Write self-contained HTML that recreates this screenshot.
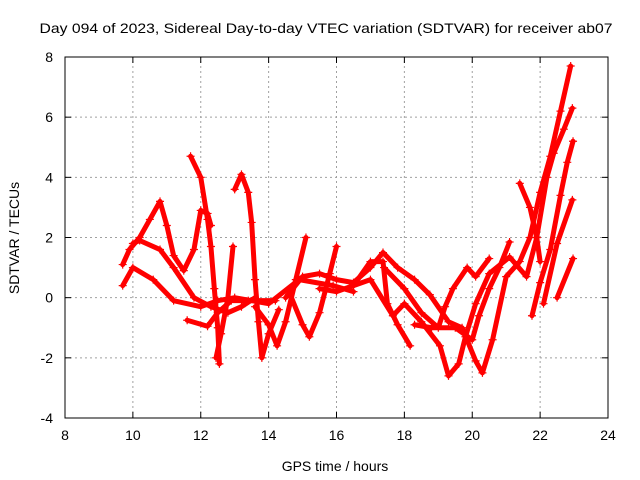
<!DOCTYPE html>
<html><head><meta charset="utf-8"><style>
body{margin:0;background:#fff}
svg{display:block;font-family:"Liberation Sans",sans-serif}
</style></head><body>
<svg id="chart" width="640" height="480" viewBox="0 0 640 480" xmlns="http://www.w3.org/2000/svg">
<rect width="640" height="480" fill="#fff"/>
<text x="326" y="33" font-size="14" text-anchor="middle" textLength="573" lengthAdjust="spacingAndGlyphs">Day 094 of 2023, Sidereal Day-to-day VTEC variation (SDTVAR) for receiver ab07</text>
<g id="grid"></g>
<g id="ticks"></g>
<g id="series"></g>
<rect x="65" y="57" width="543" height="361" fill="none" stroke="#000" stroke-width="1"/>
<text x="335" y="471" font-size="14" text-anchor="middle">GPS time / hours</text>
<text x="0" y="0" font-size="14" text-anchor="middle" transform="translate(19,238) rotate(-90)">SDTVAR / TECUs</text>
</svg>
<script>
const xTicks=[8,10,12,14,16,18,20,22,24];
const yTicks=[-4,-2,0,2,4,6,8];
const track1=[[9.7,1.1],[9.9,1.6],[10.2,2.0],[10.5,2.6],[10.8,3.2],[11.0,2.4],[11.2,1.4],[11.5,0.9],[11.8,1.6],[12.0,2.9],[12.2,2.8],[12.3,2.4]];
const track2=[[9.7,0.4],[10.0,1.0],[10.6,0.6],[11.2,-0.1],[12.0,-0.3],[12.5,-0.1],[13.0,0.0],[14.0,-0.2],[14.9,0.6],[15.9,0.4],[16.5,0.2]];
const track3=[[10.0,1.8],[10.2,1.9],[10.8,1.6],[11.2,1.0],[11.8,0.0],[12.3,-0.3],[12.8,-0.5],[13.2,-0.3],[13.6,0.0]];
const track4=[[11.6,-0.75],[12.2,-0.95],[12.5,-0.5],[12.9,-0.1],[13.4,-0.1],[14.2,-0.1]];
const track5=[[11.7,4.7],[12.0,4.0],[12.2,2.6],[12.3,1.7],[12.4,0.3],[12.5,-1.0],[12.55,-2.2]];
const track6=[[12.45,-2.0],[12.6,-1.2],[12.8,0.0],[12.95,1.7]];
const track7=[[13.0,3.6],[13.2,4.1],[13.4,3.5],[13.5,2.5],[13.6,0.6],[13.7,-0.8],[13.8,-2.0],[14.0,-1.2],[14.3,-0.4]];
const track8=[[13.6,-0.3],[14.0,-0.9],[14.25,-1.6],[14.5,-0.8],[14.8,0.6],[15.1,2.0]];
const track9=[[14.6,0.2],[15.0,-0.9],[15.2,-1.3],[15.5,-0.5],[15.8,0.8],[16.0,1.7]];
const track10=[[14.5,0.0],[15.0,0.7],[15.5,0.8],[16.0,0.6],[16.5,0.5],[17.0,1.0],[17.37,1.5],[17.8,1.0],[18.3,0.6],[18.75,0.1],[19.3,-0.8],[19.7,-1.0],[20.1,-2.1],[20.3,-2.5],[20.6,-1.4],[21.0,0.7],[21.4,1.2],[21.7,2.0],[22.0,3.5],[22.3,4.7],[22.6,6.2],[22.9,7.7]];
const track11=[[15.5,0.3],[16.0,0.2],[16.5,0.4],[17.0,1.2],[17.37,1.2],[17.5,-0.2],[17.8,-0.9],[18.17,-1.6]];
const track12=[[16.5,0.4],[17.0,0.6],[17.66,-0.6],[18.0,-0.2],[18.5,-0.8],[19.05,-1.6],[19.3,-2.6],[19.6,-2.2],[19.8,-1.3],[20.1,-0.2],[20.5,0.8],[21.1,1.35],[21.6,0.7],[21.9,2.0],[22.2,4.0],[22.4,4.8],[22.7,5.6],[22.95,6.3]];
const track13=[[17.4,1.0],[18.0,0.3],[18.5,-0.5],[19.0,-1.0],[19.2,-0.3],[19.43,0.3],[19.85,1.0],[20.1,0.7],[20.5,1.3]];
const track14=[[18.3,-0.9],[18.8,-1.0],[19.5,-1.0],[20.0,-1.4],[20.2,-0.6],[20.5,0.3],[20.8,1.0],[21.1,1.85]];
const track15=[[21.4,3.8],[21.7,3.0],[21.9,2.0],[22.0,1.2]];
const track16=[[21.76,-0.6],[22.0,0.5],[22.3,1.6],[22.6,3.4],[22.8,4.5],[22.97,5.2]];
const track17=[[22.1,-0.2],[22.5,1.8],[22.95,3.25]];
const track18=[[22.5,0.0],[22.97,1.3]];
const tracks=[track1,track2,track3,track4,track5,track6,track7,track8,track9,track10,track11,track12,track13,track14,track15,track16,track17,track18];

const NS='http://www.w3.org/2000/svg';
const X0=65,X1=608,Y0=418,Y1=57;
function sx(t){return X0+(t-8)/(24-8)*(X1-X0);}
function sy(v){return Y0-(v+4)/(8+4)*(Y0-Y1);}
function mk(tag,attrs,parent){const e=document.createElementNS(NS,tag);for(const k in attrs)e.setAttribute(k,attrs[k]);parent.appendChild(e);return e;}
const grid=document.getElementById('grid'),ticks=document.getElementById('ticks'),series=document.getElementById('series');
xTicks.forEach(t=>{
  const x=sx(t);
  if(t>8&&t<24){const g=mk('line',{x1:x,x2:x,y1:Y0,y2:Y1,stroke:'#a0a0a0','stroke-dasharray':'2,3'},grid);
  
  }
  mk('line',{x1:x,x2:x,y1:Y0,y2:Y0-6,stroke:'#000'},ticks);
  mk('line',{x1:x,x2:x,y1:Y1,y2:Y1+6,stroke:'#000'},ticks);
  const l=mk('text',{x:x,y:Y0+22,'font-size':14,'text-anchor':'middle'},ticks);
  l.textContent=t;
  
  
});
yTicks.forEach(v=>{
  const y=sy(v);
  if(v>-4&&v<8){const g=mk('line',{x1:X0,x2:X1,y1:y,y2:y,stroke:'#a0a0a0','stroke-dasharray':'2,3'},grid);
  
  }
  mk('line',{x1:X0,x2:X0+6,y1:y,y2:y,stroke:'#000'},ticks);
  mk('line',{x1:X1,x2:X1-6,y1:y,y2:y,stroke:'#000'},ticks);
  const l=mk('text',{x:X0-12,y:y+5,'font-size':14,'text-anchor':'end'},ticks);
  l.textContent=v;
  
  
});
tracks.forEach((tr,i)=>{
  const g=mk('g',{},series);
  
  
  mk('polyline',{points:tr.map(p=>sx(p[0])+','+sy(p[1])).join(' '),fill:'none',stroke:'#f00','stroke-width':5,'stroke-linejoin':'round','stroke-linecap':'round'},g);
  tr.forEach(p=>{
    const x=sx(p[0]),y=sy(p[1]);
    const m=mk('path',{d:`M${x-4},${y}H${x+4}M${x},${y-4}V${y+4}`,stroke:'#f00','stroke-width':1.2},g);
    
    
  });
});
</script>
</body></html>
